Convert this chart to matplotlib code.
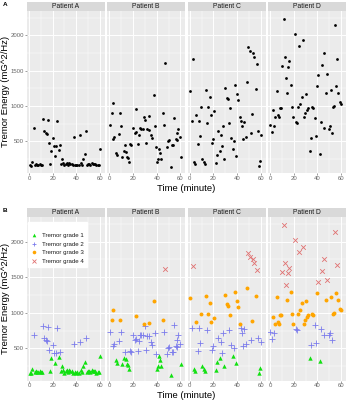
import matplotlib
matplotlib.use("Agg")
import matplotlib.pyplot as plt
from matplotlib.lines import Line2D

plt.rcParams['font.family'] = ['Liberation Sans', 'DejaVu Sans']

# ---------------- data ----------------
patients = ["Patient A", "Patient B", "Patient C", "Patient D"]

time_A = [1,2,3,4,5,6,7,8,9,10,11,12,13,14,15,16,17,18,19,20,21,22,23,24,25,26,27,28,29,30,
          31,32,33,34,35,36,37,38,39,40,41,42,43,44,45,46,47,48,49,50,51,52,53,54,55,56,57,58,59,60]
energy_A = [160,155,215,690,170,175,165,170,175,165,170,810,640,620,600,800,470,180,365,545,
            440,300,435,785,375,455,175,245,190,160,175,200,165,190,175,180,160,555,165,160,
            170,160,585,190,165,250,315,645,165,175,180,170,190,185,175,180,160,170,165,395]
grade_A = [1,1,1,2, 1,1,1,1,1,1,1, 2,2,2,2,2,2, 1,1,2,2,1,2,2,1,2,
           1,1,1,1,1,1,1,1,1,1,1, 2, 1,1,1,1, 2, 1,1,1,1, 2, 1,1,1,1,1,1,1,1,1,1,1,1]

time_B = [0.6,2,2.8,3.4,4.2,5.6,6.8,7.9,8.7,9.6,11,12.4,13.2,13.8,14.6,15.8,16.9,17.5,18.6,19.7,
          21.4,22.3,22.8,24,24.8,25.9,27,28.2,29.3,30.1,31,31.8,33.2,33.8,34.9,36,37.5,38.6,39.4,40.3,
          41.1,41.7,42.5,43.4,45,45.9,47.3,48.5,49.9,50.7,51.8,52.9,54,54.6,56,56.9,57.2,58,59.7,60.9]
energy_B = [729,898,1039,527,565,330,301,602,898,724,283,363,448,344,283,268,213,462,453,687,
            616,952,630,457,597,687,682,682,847,809,471,678,856,668,584,546,1163,715,425,208,
            255,396,340,251,898,729,1614,425,500,518,132,448,448,824,527,621,518,682,565,283]
grade_B = [2,3,3,2,2, 1,1,2,3,2, 1,1,2,1,1, 1,1,2,2,2, 2,3,2,2,2, 2,2,2,3,2,
           2,2,3,2,2, 2,3,2,2,1, 1,1,1,1,3, 2,4,2,2,2, 1,2,2,2,2, 2,2,2,2,1]

time_C = [0.6,1.7,2.8,3.7,4.8,5.6,6.8,7.9,9,9.9,10.7,11.8,13,13.8,14.6,15.8,16.9,18,18.9,19.7,
          20.6,22,23.1,24.2,25.4,26.2,27,28.2,29.3,30.1,31.3,32.1,33.2,34.1,35.2,36.3,37.2,38.3,39.4,40.3,
          41.1,42.3,43.1,43.9,45.1,46.2,47.3,48.5,49.6,50.7,51.5,53,53.5,54.6,55.8,56.6,57.7,58.6,59.4,60.6]
energy_C = [1211,792,1662,205,180,872,462,792,580,980,256,205,176,1234,754,989,1131,877,480,527,
            933,189,313,651,369,590,434,716,246,1251,1117,1098,754,970,547,397,500,1294,293,1168,
            1084,839,792,716,527,773,566,1346,1835,1779,622,886,1751,1695,1239,1601,641,157,228,590]
grade_C = [3,2,4,1,1, 3,2,2,2,3, 1,1,1,3,2, 3,3,3,2,2, 3,1,1,2,1, 2,2,2,1,3,
           3,3,2,3,2, 1,2,3,1,3, 3,3,2,2,2, 2,2,3,4,4, 2,3,4,4,3, 4,2,1,1,2]

time_D = [0,1.4,2.5,3.4,4.2,5.4,6.5,7.3,8.5,9.3,10.4,11.5,12.4,13.2,14.4,15.2,16.1,17.2,18.3,19.4,
          20.6,21.7,22.5,23.7,24.5,25.6,26.5,27.6,28.7,29.6,30.7,31.5,32.4,33.5,34.4,35.2,36.3,37.5,38.6,39.7,
          40.8,42,42.8,43.9,45.1,45.9,47,47.9,49.3,50.4,51.3,52.1,53,53.8,54.6,55.8,56.6,57.5,59.2,60]
energy_D = [726,637,943,721,839,1216,872,848,966,975,1568,2236,1695,1398,1187,1554,1634,1294,980,848,
            2025,777,754,989,1854,1036,1135,1930,839,895,1164,943,975,369,542,989,975,825,575,1281,
            1436,317,777,1583,693,1751,1187,1458,682,716,1225,613,980,998,2141,1283,1667,1180,1060,1036]
grade_D = [2,2,3,2,3, 3,3,3,3,3, 4,4,4,4,3, 4,4,3,3,3, 4,2,2,3,4, 3,3,4,3,3,
           3,3,3,1,2, 3,3,2,2,3, 4,1,2,4,2, 4,3,4,2,2, 3,2,3,3,4, 3,4,3,3,3]

times = [time_A, time_B, time_C, time_D]
energies = [energy_A, energy_B, energy_C, energy_D]
grades = [grade_A, grade_B, grade_C, grade_D]

grade_labels = ["Tremor grade 1", "Tremor grade 2", "Tremor grade 3", "Tremor grade 4"]
grade_colors = ["#11E011", "#7C7CEC", "#FFA500", "#E07070"]
grade_markers = ["^", "+", "o", "x"]
grade_sizes = [10, 17, 8, 11]

x_ticks = [0, 20, 40, 60]
y_ticks = [500, 1000, 1500, 2000]

# ---------------- layout ----------------
W, H = 347, 400
fig = plt.figure(figsize=(W / 100, H / 100), dpi=100)
fig.patch.set_facecolor("white")

def rect(x0, top, w, h):
    return [x0 / W, 1 - (top + h) / H, w / W, h / H]

panel_lefts = [26.7, 107.1, 187.5, 267.9]
pw = 78
rows = [(10.5, 162.8, 1.5), (216.6, 163.9, 207.8)]
XLIM = (-1.9, 64.0)
YLIM = (48, 2353)

def style_panel(ax, first):
    ax.set_facecolor("#EBEBEB")
    ax.set_xlim(*XLIM)
    ax.set_ylim(*YLIM)
    for s in ax.spines.values():
        s.set_visible(False)
    ax.set_xticks(x_ticks)
    ax.set_yticks(y_ticks)
    ax.set_xticks([10, 30, 50], minor=True)
    ax.set_yticks([250, 750, 1250, 1750, 2250], minor=True)
    ax.grid(True, which="major", color="white", linewidth=0.7)
    ax.grid(True, which="minor", color="white", linewidth=0.35)
    ax.set_axisbelow(True)
    ax.tick_params(which="major", length=1.3, width=0.4, color="#555555",
                   labelsize=4.3, labelcolor="#666666", pad=0.8)
    ax.tick_params(which="minor", length=0)
    if not first:
        ax.tick_params(axis="y", which="major", length=0, labelleft=False)

for r, (top, h, strip_top) in enumerate(rows):
    for i in range(4):
        ax = fig.add_axes(rect(panel_lefts[i], top, pw, h))
        style_panel(ax, i == 0)
        if r == 0:
            ax.scatter(times[i], energies[i], s=4.0, c="black", linewidths=0, zorder=3)
        else:
            for g in range(4):
                xs = [t for t, gg in zip(times[i], grades[i]) if gg == g + 1]
                ys = [e for e, gg in zip(energies[i], grades[i]) if gg == g + 1]
                if grade_markers[g] in ("+", "x"):
                    ax.scatter(xs, ys, s=grade_sizes[g], c=grade_colors[g],
                               marker=grade_markers[g], linewidths=0.6, zorder=3)
                else:
                    ax.scatter(xs, ys, s=grade_sizes[g], c=grade_colors[g],
                               marker=grade_markers[g], linewidths=0, zorder=3)
            if i == 0:
                handles = []
                for g in range(4):
                    handles.append(Line2D([], [], linestyle="none", marker=grade_markers[g],
                                          color=grade_colors[g], markersize=2.6,
                                          markeredgewidth=0.6 if grade_markers[g] in "+x" else 0,
                                          label=grade_labels[g]))
                leg = ax.legend(handles=handles, loc="upper left", bbox_to_anchor=(0.02, 0.97),
                                borderaxespad=0, fontsize=4.4, title=" ", title_fontsize=4.4,
                                frameon=True, fancybox=False, framealpha=1, edgecolor="white",
                                facecolor="white", borderpad=0.5, handlelength=1.0,
                                handletextpad=0.7, labelspacing=0.55)
                for t in leg.get_texts():
                    t.set_color("#1A1A1A")
        # strip
        sax = fig.add_axes(rect(panel_lefts[i], strip_top, pw, top - strip_top))
        sax.set_facecolor("#D9D9D9")
        sax.set_xticks([])
        sax.set_yticks([])
        for s in sax.spines.values():
            s.set_visible(False)
        sax.text(0.5, 0.5, patients[i], ha="center", va="center", fontsize=4.9,
                 color="#1A1A1A", transform=sax.transAxes)

    # axis titles
    fig.text(186.3 / W, 1 - (top + h + 15) / H, "Time (minute)", ha="center", va="center",
             fontsize=6.8, color="black")
    fig.text(5.5 / W, 1 - (top + h / 2) / H, "Tremor Energy (mG^2/Hz)", ha="center",
             va="center", rotation=90, fontsize=6.8, color="black")

fig.text(2.5 / W, 1 - 4.5 / H, "A", ha="left", va="center", fontsize=4.6, fontweight="bold")
fig.text(2.5 / W, 1 - 210.5 / H, "B", ha="left", va="center", fontsize=4.6, fontweight="bold")

fig.savefig("out.png", dpi=100, facecolor="white")
